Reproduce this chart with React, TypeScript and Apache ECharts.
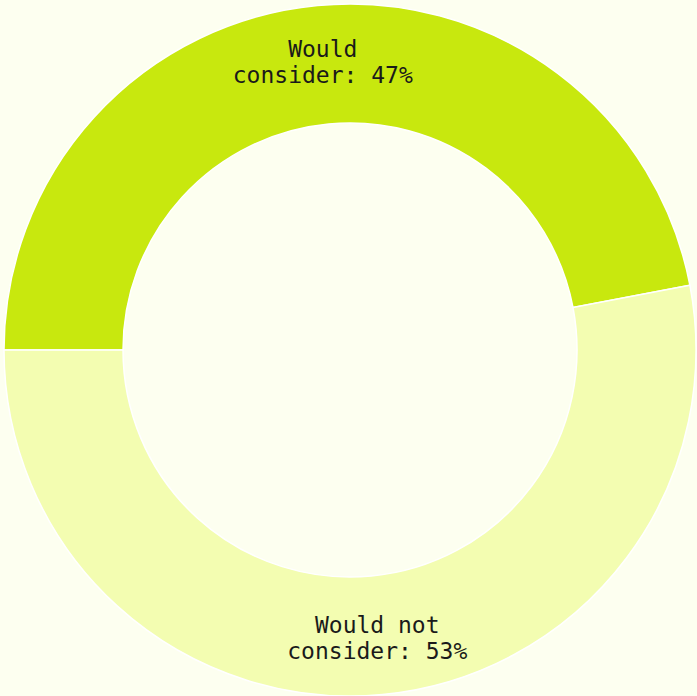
import React, { useEffect, useRef } from "react";
import * as echarts from "echarts";

const categories = ["Would\nconsider", "Would not\nconsider"];
const values = [47, 53];
const colors = ["#c8e80e", "#f3fdb1"];

export default function App() {
  const ref = useRef<HTMLDivElement>(null);
  useEffect(() => {
    if (!ref.current) return;
    const chart = echarts.init(ref.current, null, { renderer: "svg" });
    chart.setOption({
      animation: false,
      backgroundColor: "#fdfff0",
      series: [
        {
          type: "pie",
          center: [350, 350],
          radius: [227, 346],
          startAngle: 180,
          clockwise: true,
          data: categories.map((c, i) => ({
            name: c,
            value: values[i],
            itemStyle: { color: colors[i] },
          })),
          itemStyle: { borderColor: "#ffffff", borderWidth: 1.5 },
          label: {
            position: "inside",
            formatter: (p: any) => `${p.name}: ${p.value}%`,
            fontFamily: "DejaVu Sans Mono",
            fontSize: 23,
            lineHeight: 26,
            color: "#1a1a1a",
            align: "center",
          },
          labelLine: { show: false },
          emphasis: { disabled: true },
        },
      ],
    });
    return () => chart.dispose();
  }, []);
  return (
    <div
      ref={ref}
      style={{ position: "absolute", left: 0, top: 0, width: 697, height: 696 }}
    />
  );
}
